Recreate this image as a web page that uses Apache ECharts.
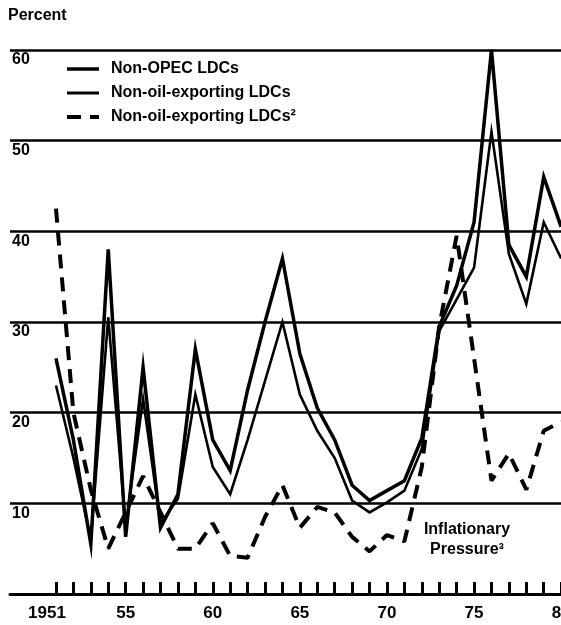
<!DOCTYPE html>
<html>
<head>
<meta charset="utf-8">
<script src="https://cdn.jsdelivr.net/npm/echarts@6/dist/echarts.min.js"></script>
<style>
html,body{margin:0;padding:0;background:#fff;}
#chart{width:561px;height:625px;}
</style>
</head>
<body>
<div id="chart"></div>
<script>
// ---- data ----
const years = [1951,1952,1953,1954,1955,1956,1957,1958,1959,1960,1961,1962,1963,1964,1965,1966,1967,1968,1969,1970,1971,1972,1973,1974,1975,1976,1977,1978,1979,1980];
const nonOpec = [26,17,5.5,38,6.3,25,7.3,11,27,17,13.6,22.5,30,37,26.5,20.5,17,12,10.3,11.4,12.5,17.2,29.5,34,41,60,38.5,35,46,40.5];
const nonOilExp = [23,15,6,30.5,7.5,21.5,7.8,10.5,22,14,11,17,23.5,30,22,18,15,10.3,9,10.1,11.4,16,29,32.5,36,51,37.5,32,41,37];
const nonOilExp2 = [42.5,20,11.5,5,9,13,9,5,5,7.8,4.2,4,8.5,12,7.3,9.6,9,6.3,4.7,6.5,5.8,14,29.5,39.5,26,12.5,15.5,11.5,18,19];
const labelYears = [1951,1955,1960,1965,1970,1975,1980];
const seriesNames = ['Non-OPEC LDCs','Non-oil-exporting LDCs','Non-oil-exporting LDCs\u00B2'];

const FONT = '"Liberation Sans", Arial, Helvetica, sans-serif';
const pair = (arr) => years.map((y, i) => [y, arr[i]]);

const chart = echarts.init(document.getElementById('chart'), null, {renderer: 'canvas'});
chart.setOption({
  animation: false,
  backgroundColor: '#fff',
  textStyle: {fontFamily: FONT},
  grid: {left: 10, top: 50, width: 551.5, height: 544, containLabel: false, outerBoundsMode: 'none'},
  xAxis: {
    type: 'value', min: 1948.36, max: 1980.02,
    axisLine: {show: true, onZero: false, lineStyle: {color: '#000', width: 3}},
    axisTick: {show: true, inside: true, length: 12, customValues: years, lineStyle: {color: '#000', width: 3}},
    axisLabel: {
      show: true, customValues: labelYears, margin: 11,
      color: '#000', fontSize: 17, fontWeight: 'bold', fontFamily: FONT,
      formatter: function (v) {
        if (Math.round(v) === 1951) return '{f|1951}';
        return String(Math.round(v)).slice(2);
      },
      rich: {f: {fontSize: 17, fontWeight: 'bold', fontFamily: FONT, color: '#000', padding: [0, 18, 0, 0]}}
    },
    splitLine: {show: false}
  },
  yAxis: {
    type: 'value', min: 0, max: 60, interval: 10,
    axisLine: {show: false}, axisTick: {show: false},
    axisLabel: {
      inside: true, margin: 2, color: '#000', fontSize: 16, fontWeight: 'bold', fontFamily: FONT,
      verticalAlign: 'top', padding: [2, 0, 0, 0],
      formatter: function (v) { return v === 0 ? '' : String(v); }
    },
    splitLine: {show: true, lineStyle: {color: '#000', width: 2.5}}
  },
  legend: {
    show: true, orient: 'vertical', left: 65, top: 61, padding: 0,
    itemWidth: 32, itemHeight: 12, itemGap: 8,
    itemStyle: {opacity: 0},
    data: [
      {name: seriesNames[0], lineStyle: {width: 3.5}},
      {name: seriesNames[1], lineStyle: {width: 3}},
      {name: seriesNames[2], lineStyle: {width: 4}}
    ],
    textStyle: {color: '#000', fontSize: 16, fontWeight: 'bold', fontFamily: FONT, padding: [0, 0, 0, 7]}
  },
  series: [
    {name: seriesNames[0], type: 'line', data: pair(nonOpec), symbol: 'none',
     lineStyle: {color: '#000', width: 3.5, join: 'miter'}, itemStyle: {color: '#000'}, z: 3},
    {name: seriesNames[1], type: 'line', data: pair(nonOilExp), symbol: 'none',
     lineStyle: {color: '#000', width: 2.6, join: 'miter'}, itemStyle: {color: '#000'}, z: 3},
    {name: seriesNames[2], type: 'line', data: pair(nonOilExp2), symbol: 'none',
     lineStyle: {color: '#000', width: 4, type: [14, 9], cap: 'butt'}, itemStyle: {color: '#000'}, z: 2}
  ],
  graphic: [
    {type: 'text', left: 8, top: 8,
     style: {text: 'Percent', fill: '#000', font: 'bold 16px ' + FONT}},
    {type: 'text', x: 467, y: 520,
     style: {text: 'Inflationary\nPressure\u00B3', fill: '#000', font: 'bold 16px ' + FONT,
              textAlign: 'center', lineHeight: 20}}
  ]
});
</script>
</body>
</html>
